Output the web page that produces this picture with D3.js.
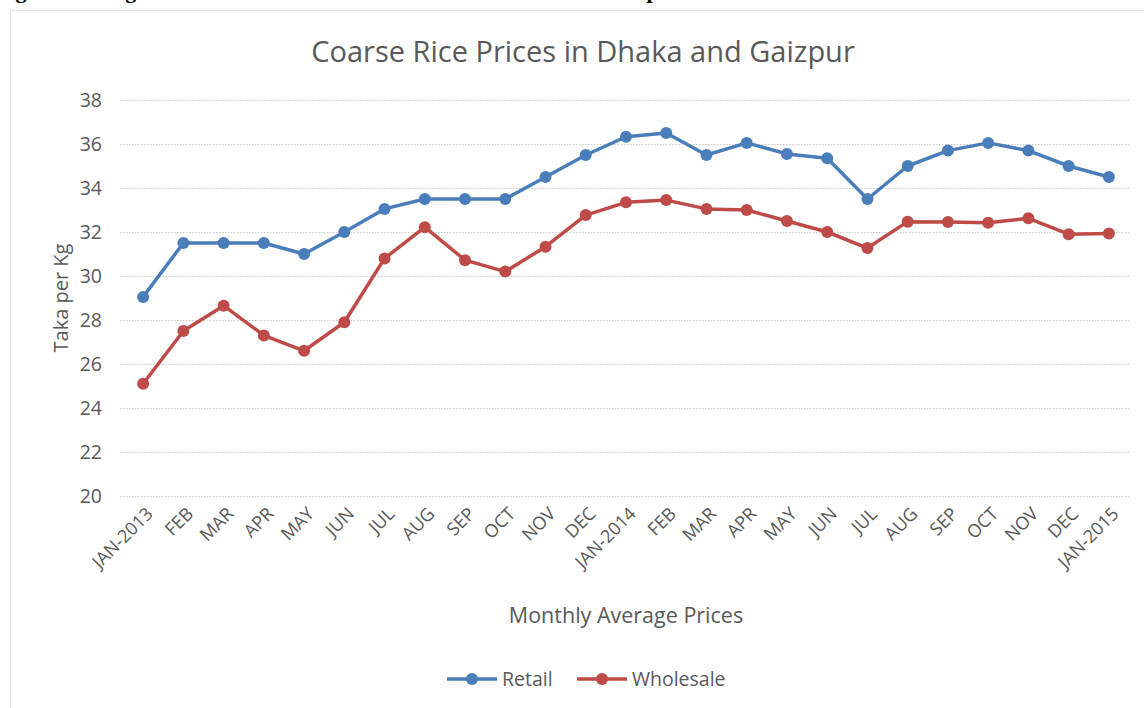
<!DOCTYPE html>
<html><head><meta charset="utf-8">
<script src="https://cdn.jsdelivr.net/npm/d3@7"></script>
<style>
html,body{margin:0;padding:0;background:#fff;overflow:hidden;}
svg{display:block;}
</style></head>
<body>
<svg id="c" width="1144" height="708"></svg>
<script>
const months = ["JAN-2013","FEB","MAR","APR","MAY","JUN","JUL","AUG","SEP","OCT","NOV","DEC",
  "JAN-2014","FEB","MAR","APR","MAY","JUN","JUL","AUG","SEP","OCT","NOV","DEC","JAN-2015"];
const retail = [29.05,31.5,31.5,31.5,31.0,32.0,33.05,33.5,33.5,33.5,34.5,35.5,
  36.33,36.5,35.5,36.05,35.55,35.35,33.5,35.0,35.7,36.05,35.7,35.0,34.5];
const wholesale = [25.1,27.5,28.65,27.3,26.6,27.9,30.8,32.22,30.72,30.2,31.33,32.77,
  33.35,33.45,33.05,33.0,32.5,32.0,31.27,32.47,32.45,32.42,32.62,31.9,31.93];
const yTicks = [20,22,24,26,28,30,32,34,36,38];
const seriesNames = ["Retail","Wholesale"];
const seriesColors = ["#4A7EBB","#BE4B48"];

const svg = d3.select("#c");
const txt = "#595959";
const font = "'Open Sans', 'Noto Sans', sans-serif";

// caption (clipped at top, as in the reference)
svg.append("text").attr("x",-4).attr("y",-2)
  .attr("font-family","'Liberation Serif', serif").attr("font-weight","bold").attr("font-size",22)
  .attr("fill","#000").text("Figure 4: Long-term Trends of Coarse Rice Prices in Dhaka and Gazipur");

// chart border
svg.append("rect").attr("x",10.5).attr("y",10.5).attr("width",1150).attr("height",720)
  .attr("fill","none").attr("stroke","#c8c8c8").attr("stroke-dasharray","1,1");

const x = d3.scaleBand().domain(d3.range(months.length)).range([123,1129]);
const y = d3.scaleLinear().domain([20,38]).range([496,100]);
const cx = i => x(i) + x.bandwidth()/2;

// title
svg.append("text").attr("x",583).attr("y",62).attr("text-anchor","middle")
  .attr("font-family",font).attr("font-size",29).attr("fill",txt)
  .text("Coarse Rice Prices in Dhaka and Gaizpur");

// gridlines + y axis
const yAxis = d3.axisLeft(y).tickValues(yTicks).tickSize(-(1129-120)).tickPadding(18).tickFormat(d3.format("d"));
const gy = svg.append("g").attr("transform","translate(120,0)").call(yAxis);
gy.select(".domain").remove();
gy.selectAll(".tick line").attr("stroke","#c9c9c9").attr("stroke-dasharray","1.5,1.5").attr("stroke-width",1);
gy.selectAll(".tick text").attr("font-family",font).attr("font-size",19.5).attr("fill",txt);

// x axis labels
const xAxis = d3.axisBottom(x).tickSize(0).tickPadding(0).tickFormat(i => months[i]);
const gx = svg.append("g").attr("transform","translate(0,496)").call(xAxis);
gx.select(".domain").remove();
gx.selectAll(".tick text")
  .attr("font-family",font).attr("font-size",18).attr("fill",txt)
  .attr("text-anchor","end").attr("dy",0).attr("y",0)
  .attr("transform","translate(11,19) rotate(-45)");

// axis titles
svg.append("text").attr("x",626).attr("y",623).attr("text-anchor","middle")
  .attr("font-family",font).attr("font-size",21.5).attr("fill",txt).text("Monthly Average Prices");
svg.append("text").attr("transform","translate(68,298) rotate(-90)").attr("text-anchor","middle")
  .attr("font-family",font).attr("font-size",20).attr("fill",txt).text("Taka per Kg");

// series
const data = [retail, wholesale];
const line = d3.line().x((d,i)=>cx(i)).y(d=>y(d));
data.forEach((s,k)=>{
  svg.append("path").datum(s).attr("d",line).attr("fill","none")
    .attr("stroke",seriesColors[k]).attr("stroke-width",3.5).attr("stroke-linejoin","round");
  svg.append("g").selectAll("circle").data(s).join("circle")
    .attr("cx",(d,i)=>cx(i)).attr("cy",d=>y(d)).attr("r",6).attr("fill",seriesColors[k]);
});

// legend
const leg = [[447,"Retail"],[577,"Wholesale"]];
leg.forEach((l,k)=>{
  const g = svg.append("g").attr("transform",`translate(${l[0]},679)`);
  g.append("line").attr("x1",0).attr("x2",50).attr("stroke",seriesColors[k]).attr("stroke-width",3.5);
  g.append("circle").attr("cx",25).attr("r",6).attr("fill",seriesColors[k]);
  g.append("text").attr("x",55).attr("y",7).attr("font-family",font).attr("font-size",19.5)
    .attr("fill",txt).text(seriesNames[k]);
});
</script>
</body></html>
